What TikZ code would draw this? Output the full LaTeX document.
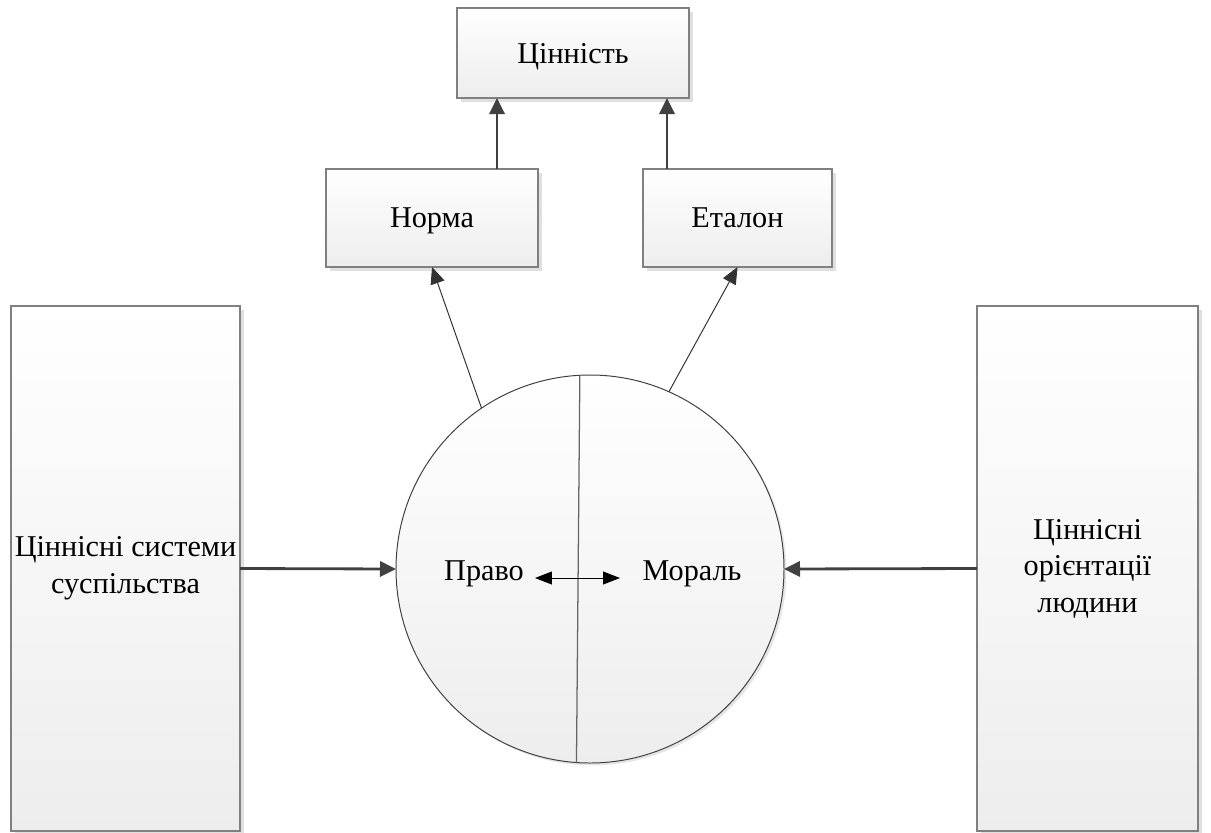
\documentclass[tikz,border=0pt]{standalone}
\usepackage{fontspec}
\setmainfont{Liberation Serif}
\newfontfamily\tnr{Liberation Serif}
\usetikzlibrary{arrows.meta, shadows, positioning, calc}

\tikzset{
  blok/.style={rectangle, draw=black!50, line width=1pt, top color=white, bottom color=black!7,
    drop shadow={shadow xshift=0.09cm, shadow yshift=-0.09cm, fill=black!12, opacity=1},
    align=center, inner sep=0pt, outer sep=0pt},
  tovsta/.style={draw=black!75, line width=2pt, -{Triangle[length=0.4cm, width=0.38cm]}},
  tonka/.style={draw=black!80, line width=0.7pt, -{Triangle[length=0.42cm, width=0.36cm]}},
  podviyna/.style={draw=black, line width=0.7pt, {Triangle[length=0.42cm, width=0.32cm]}-{Triangle[length=0.42cm, width=0.32cm]}}
}

\begin{document}
\begin{tikzpicture}[font=\tnr\fontsize{21.5}{26}\selectfont]
\useasboundingbox (0,0) rectangle (30.275,-20.8);
%nodes
\node[blok, text depth=0pt, minimum width=5.8cm, minimum height=2.25cm] (cin) at (14.325,-1.325) {Цінність};
\node[blok, text depth=0pt, minimum width=5.3cm, minimum height=2.45cm] (norma) at (10.8,-5.45) {Норма};
\node[blok, text depth=0pt, minimum width=4.725cm, minimum height=2.45cm] (etalon) at (18.4375,-5.45) {Еталон};
\node[blok, minimum width=5.725cm, minimum height=13.125cm] (sus) at (3.1375,-14.2125) {Ціннісні системи\\суспільства};
\node[blok, minimum width=5.525cm, minimum height=13.125cm] (lud) at (27.1875,-14.2125) {Ціннісні\\орієнтації\\людини};
\node[circle, draw=black!75, line width=0.7pt, top color=white, bottom color=black!7, minimum size=9.7cm,
  outer sep=0pt, drop shadow={shadow xshift=0.06cm, shadow yshift=-0.06cm, fill=black!10, opacity=1}] (circ) at (14.75,-14.225) {};
\draw[black!60, line width=0.9pt] (circ.93.5) -- (circ.266.5);
\node (pravo) at (12.1,-14.35) {Право};
\node (moral) at (17.3,-14.35) {Мораль};
\coordinate (dl) at (13.375,-14.45);
\coordinate (dr) at (15.5,-14.45);

%connections
\draw[tovsta] ([xshift=1.625cm]norma.north) -- ([xshift=1.625cm]norma.north |- cin.south);
\draw[tovsta] ([xshift=-1.7625cm]etalon.north) -- ([xshift=-1.7625cm]etalon.north |- cin.south);
\draw[tonka] (circ.124.3) -- (norma.south);
\draw[tonka] (circ.66.3) -- (etalon.south);
\draw[tovsta] (sus.east) -- (circ.west);
\draw[tovsta] (lud.west) -- (circ.east);
\draw[podviyna] (dl) -- (dr);
\end{tikzpicture}
\end{document}
